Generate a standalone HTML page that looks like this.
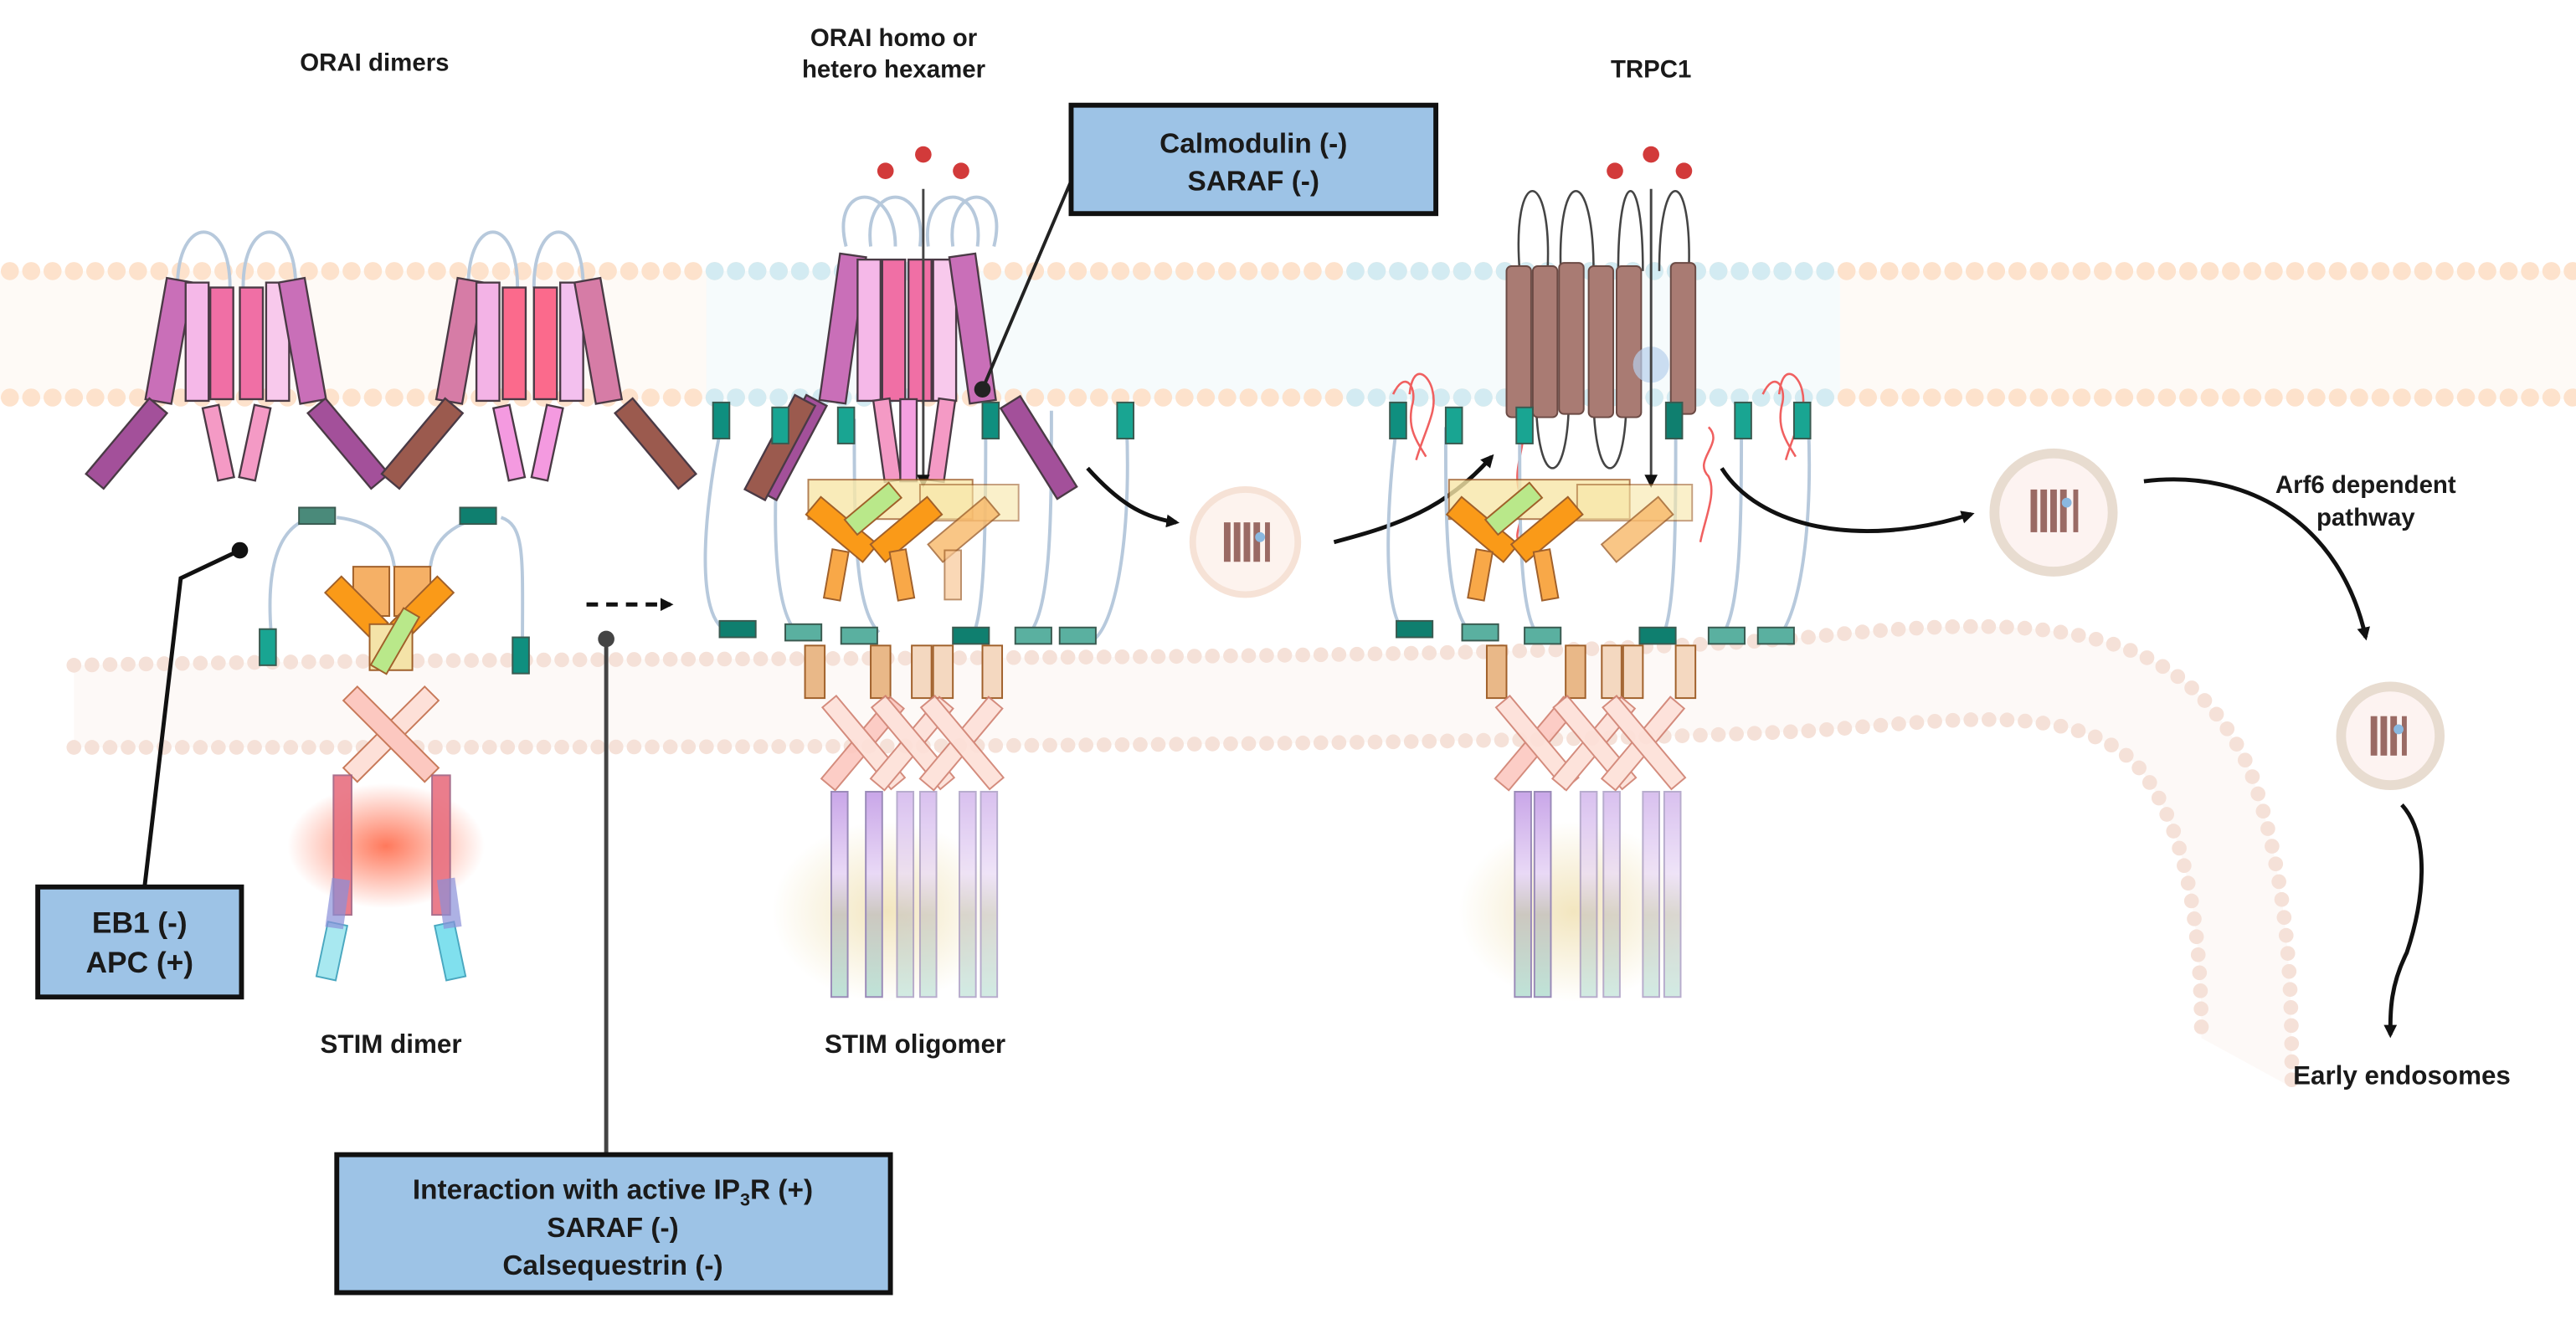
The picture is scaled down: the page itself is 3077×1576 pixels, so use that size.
<!DOCTYPE html>
<html><head><style>
html,body{margin:0;padding:0;background:#fff;}
svg{display:block;}
text{font-family:"Liberation Sans",sans-serif;font-weight:bold;fill:#1a1a1a;}
</style></head><body>
<svg width="3077" height="1576" viewBox="0 0 1568 803" xmlns="http://www.w3.org/2000/svg">
<defs>
<marker id="ah" markerWidth="8" markerHeight="8" refX="6" refY="4" orient="auto" markerUnits="userSpaceOnUse"><path d="M0,0 L8,4 L0,8 z" fill="#111"/></marker>
<linearGradient id="stim" x1="0" y1="0" x2="0" y2="1"><stop offset="0" stop-color="#c9a6e8"/><stop offset="0.4" stop-color="#e9d9f6"/><stop offset="0.6" stop-color="#ccc8c0"/><stop offset="1" stop-color="#bfe3d8"/></linearGradient>
<radialGradient id="red"><stop offset="0" stop-color="#ff6a4a" stop-opacity="0.9"/><stop offset="1" stop-color="#ff6a4a" stop-opacity="0"/></radialGradient>
<radialGradient id="yel"><stop offset="0" stop-color="#f1e3b8" stop-opacity="0.9"/><stop offset="1" stop-color="#f1e3b8" stop-opacity="0"/></radialGradient>
</defs>

<!-- Plasma membrane -->
<rect x="0" y="165" width="1568" height="78" fill="#fefaf6"/>
<rect x="430" y="165" width="690" height="78" fill="#f6fbfc"/>
<g stroke-linecap="round" stroke-width="11" fill="none">
<line x1="6" y1="165" x2="1568" y2="165" stroke="#fde2cc" stroke-dasharray="0 13"/>
<line x1="6" y1="242" x2="1568" y2="242" stroke="#fde2cc" stroke-dasharray="0 13"/>
<line x1="435" y1="165" x2="560" y2="165" stroke="#d3ebf2" stroke-dasharray="0 13"/>
<line x1="435" y1="242" x2="560" y2="242" stroke="#d3ebf2" stroke-dasharray="0 13"/>
<line x1="825" y1="165" x2="1115" y2="165" stroke="#d3ebf2" stroke-dasharray="0 13"/>
<line x1="825" y1="242" x2="1115" y2="242" stroke="#d3ebf2" stroke-dasharray="0 13"/>
</g>

<!-- ER membrane -->
<path d="M45,405 C400,398 900,405 1100,388 C1250,372 1330,380 1370,470 C1395,540 1395,610 1395,662 L1340,632 C1340,560 1330,500 1300,465 C1260,425 1180,440 1100,445 C900,455 400,455 45,455 Z" fill="#fdf9f7"/>
<g stroke-linecap="round" stroke-width="9" fill="none" stroke="#f5e1d8" stroke-dasharray="0 11">
<path d="M45,405 C400,398 900,405 1100,388 C1250,372 1330,380 1370,470 C1395,540 1395,610 1395,662"/>
<path d="M45,455 C400,455 900,455 1100,445 C1180,440 1260,425 1300,465 C1330,500 1340,560 1340,632"/>
</g>

<ellipse cx="235" cy="515" rx="60" ry="38" fill="url(#red)"/>
<ellipse cx="540" cy="555" rx="70" ry="55" fill="url(#yel)"/>
<ellipse cx="958" cy="555" rx="70" ry="55" fill="url(#yel)"/>

<!-- ORAI dimers left -->
<g stroke="#4a3a45" stroke-width="1.2">
<g fill="none" stroke="#b7c9dc" stroke-width="2"><path d="M108,175 C108,130 140,130 140,175 M148,175 C148,130 180,130 180,175 M285,175 C285,130 315,130 315,175 M325,175 C325,130 355,130 355,175"/></g>
<rect x="95" y="170" width="16" height="75" fill="#c96fb8" transform="rotate(10 103 207)"/>
<rect x="113" y="172" width="14" height="72" fill="#f5b8e8"/>
<rect x="128" y="175" width="14" height="68" fill="#f06fa5"/>
<rect x="146" y="175" width="14" height="68" fill="#f06fa5"/>
<rect x="162" y="172" width="14" height="72" fill="#f8c9ec"/>
<rect x="176" y="170" width="16" height="75" fill="#c96fb8" transform="rotate(-10 184 207)"/>
<rect x="272" y="170" width="16" height="75" fill="#d67ca6" transform="rotate(10 280 207)"/>
<rect x="290" y="172" width="14" height="72" fill="#f3b3e6"/>
<rect x="306" y="175" width="14" height="68" fill="#fb6a8c"/>
<rect x="325" y="175" width="14" height="68" fill="#fb6a8c"/>
<rect x="341" y="172" width="14" height="72" fill="#f3c0ee"/>
<rect x="356" y="170" width="16" height="75" fill="#d67ca6" transform="rotate(-10 364 207)"/>
<rect x="70" y="240" width="14" height="60" fill="#a3509a" transform="rotate(40 77 270)"/>
<rect x="128" y="247" width="10" height="45" fill="#f49ac5" transform="rotate(-12 133 270)"/>
<rect x="150" y="247" width="10" height="45" fill="#f49ac5" transform="rotate(12 155 270)"/>
<rect x="205" y="240" width="14" height="60" fill="#a3509a" transform="rotate(-40 212 270)"/>
<rect x="250" y="240" width="14" height="60" fill="#9b5a4e" transform="rotate(40 257 270)"/>
<rect x="305" y="247" width="10" height="45" fill="#f49ae0" transform="rotate(-12 310 270)"/>
<rect x="328" y="247" width="10" height="45" fill="#f49ae0" transform="rotate(12 333 270)"/>
<rect x="392" y="240" width="14" height="60" fill="#9b5a4e" transform="rotate(-40 399 270)"/>
</g>

<!-- STIM dimer -->
<g fill="none" stroke="#b7c9dc" stroke-width="2"><path d="M165,385 C160,320 185,315 195,315 M205,315 C230,318 238,330 240,345 M262,345 C265,320 290,315 298,315 M305,315 C320,320 318,340 318,395"/></g>
<g stroke="#3a5a50" stroke-width="1">
<rect x="182" y="309" width="22" height="10" fill="#4a8a7a"/>
<rect x="280" y="309" width="22" height="10" fill="#0f7f6f"/>
<rect x="158" y="383" width="10" height="22" fill="#19a592"/>
<rect x="312" y="388" width="10" height="22" fill="#0f8f7f"/>
</g>
<g stroke="#a0602a" stroke-width="1">
<rect x="215" y="345" width="22" height="30" fill="#f5b066"/>
<rect x="240" y="345" width="22" height="30" fill="#f5b066"/>
<rect x="210" y="350" width="14" height="40" fill="#fa9a18" transform="rotate(-45 217 370)"/>
<rect x="250" y="350" width="14" height="40" fill="#fa9a18" transform="rotate(45 257 370)"/>
<rect x="225" y="380" width="26" height="28" fill="#f4e3a8"/>
<rect x="235" y="370" width="11" height="40" fill="#b9e88a" transform="rotate(30 240 390)"/>
</g>
<g stroke="#c87a5a" stroke-width="1">
<rect x="232" y="412" width="12" height="70" fill="#fde0d8" transform="rotate(45 238 447)"/>
<rect x="232" y="412" width="12" height="70" fill="#fcc8c0" transform="rotate(-45 238 447)"/>
</g>
<rect x="203" y="472" width="11" height="85" fill="#e87080" stroke="#a06080" opacity="0.9"/>
<rect x="263" y="472" width="11" height="85" fill="#e87080" stroke="#a06080" opacity="0.9"/>
<rect x="196" y="562" width="12" height="34" fill="#a8e8f0" stroke="#4aa8c0" transform="rotate(12 202 579)"/>
<rect x="268" y="562" width="12" height="34" fill="#80e0ee" stroke="#4aa8c0" transform="rotate(-12 274 579)"/>
<rect x="200" y="535" width="11" height="30" fill="#8a90d8" opacity="0.7" transform="rotate(8 205 550)"/>
<rect x="268" y="535" width="11" height="30" fill="#8a90d8" opacity="0.7" transform="rotate(-8 273 550)"/>

<line x1="357" y1="368" x2="408" y2="368" stroke="#111" stroke-width="2.5" stroke-dasharray="7 5" marker-end="url(#ah)"/>

<!-- ORAI hexamer + STIM oligomer -->
<g fill="none" stroke="#b7c9dc" stroke-width="2">
<path d="M515,150 C505,110 545,110 545,150 M530,150 C525,110 565,110 560,150 M565,150 C560,110 600,110 595,150 M580,150 C575,110 615,110 605,150"/>
<path d="M440,255 C430,300 420,380 445,385 M475,255 C470,310 470,370 485,385 M520,255 C520,320 520,370 535,385 M600,245 C600,320 600,380 590,390 M640,250 C640,320 640,380 622,390 M685,245 C690,320 680,380 665,390"/>
</g>
<g stroke="#4a3a45" stroke-width="1.2">
<rect x="505" y="155" width="16" height="90" fill="#c96fb8" transform="rotate(8 513 200)"/>
<rect x="522" y="158" width="14" height="86" fill="#f5b8e8"/>
<rect x="537" y="158" width="14" height="86" fill="#f06fa5"/>
<rect x="553" y="158" width="14" height="86" fill="#f06fa5"/>
<rect x="568" y="158" width="14" height="86" fill="#f8c9ec"/>
<rect x="584" y="155" width="16" height="90" fill="#c96fb8" transform="rotate(-8 592 200)"/>
<rect x="475" y="240" width="14" height="65" fill="#a3509a" transform="rotate(28 482 272)"/>
<rect x="468" y="240" width="14" height="65" fill="#9b5a4e" transform="rotate(28 475 272)"/>
<rect x="535" y="243" width="10" height="50" fill="#f49ac5" transform="rotate(-8 540 268)"/>
<rect x="548" y="243" width="10" height="50" fill="#f4a0e0"/>
<rect x="568" y="243" width="10" height="50" fill="#f49ac5" transform="rotate(8 573 268)"/>
<rect x="625" y="240" width="14" height="65" fill="#a3509a" transform="rotate(-32 632 272)"/>
</g>
<line x1="562" y1="115" x2="562" y2="295" stroke="#444" stroke-width="1.5" marker-end="url(#ah)"/>
<g fill="#d23a3a"><circle cx="539" cy="104" r="5"/><circle cx="562" cy="94" r="5"/><circle cx="585" cy="104" r="5"/></g>
<g stroke="#3a5a50" stroke-width="1">
<rect x="434" y="245" width="10" height="22" fill="#0f8f7f"/><rect x="470" y="248" width="10" height="22" fill="#19a592"/>
<rect x="510" y="248" width="10" height="22" fill="#19a592"/><rect x="598" y="245" width="10" height="22" fill="#0f8f7f"/>
<rect x="680" y="245" width="10" height="22" fill="#19a592"/>
<rect x="438" y="378" width="22" height="10" fill="#0f7f6f"/><rect x="478" y="380" width="22" height="10" fill="#5ab0a0"/>
<rect x="512" y="382" width="22" height="10" fill="#5ab0a0"/><rect x="580" y="382" width="22" height="10" fill="#0f7f6f"/>
<rect x="618" y="382" width="22" height="10" fill="#5ab0a0"/><rect x="645" y="382" width="22" height="10" fill="#5ab0a0"/>
</g>
<g stroke="#a0602a" stroke-width="1">
<rect x="492" y="292" width="100" height="24" fill="#f8e7a8" opacity="0.8"/>
<rect x="560" y="295" width="60" height="22" fill="#f8e7a8" opacity="0.6"/>
<rect x="505" y="300" width="14" height="45" fill="#fa9a18" transform="rotate(-50 512 322)"/>
<rect x="545" y="300" width="14" height="45" fill="#fa9a18" transform="rotate(50 552 322)"/>
<rect x="525" y="292" width="12" height="35" fill="#b9e88a" transform="rotate(50 531 310)"/>
<rect x="580" y="300" width="14" height="45" fill="#f8b868" transform="rotate(50 587 322)" opacity="0.8"/>
<rect x="504" y="335" width="10" height="30" fill="#f8a848" transform="rotate(10 509 350)"/>
<rect x="544" y="335" width="10" height="30" fill="#f8a848" transform="rotate(-10 549 350)"/>
<rect x="575" y="335" width="10" height="30" fill="#f8c898" opacity="0.7"/>
<rect x="490" y="393" width="12" height="32" fill="#e9b888"/><rect x="530" y="393" width="12" height="32" fill="#e9b888"/>
<rect x="555" y="393" width="12" height="32" fill="#f4d8c0"/><rect x="568" y="393" width="12" height="32" fill="#f4d8c0"/><rect x="598" y="393" width="12" height="32" fill="#f4d8c0"/>
</g>
<g stroke="#d08070" stroke-width="1" opacity="0.9">
<rect x="520" y="420" width="11" height="65" fill="#fcc8c0" transform="rotate(40 525 452)"/>
<rect x="520" y="420" width="11" height="65" fill="#fde0d8" transform="rotate(-40 525 452)"/>
<rect x="550" y="420" width="11" height="65" fill="#fde0d8" transform="rotate(40 555 452)"/>
<rect x="550" y="420" width="11" height="65" fill="#fde0d8" transform="rotate(-40 555 452)"/>
<rect x="580" y="420" width="11" height="65" fill="#fde0d8" transform="rotate(40 585 452)"/>
<rect x="580" y="420" width="11" height="65" fill="#fde0d8" transform="rotate(-40 585 452)"/>
</g>
<g stroke="#9a8ab8" stroke-width="1" fill="url(#stim)">
<rect x="506" y="482" width="10" height="125"/><rect x="527" y="482" width="10" height="125"/>
<rect x="546" y="482" width="10" height="125" opacity="0.7"/><rect x="560" y="482" width="10" height="125" opacity="0.7"/>
<rect x="584" y="482" width="10" height="125" opacity="0.7"/><rect x="597" y="482" width="10" height="125" opacity="0.7"/>
</g>

<line x1="652" y1="110" x2="598" y2="237" stroke="#222" stroke-width="2"/>
<circle cx="598" cy="237" r="5" fill="#222"/>
<rect x="652" y="64" width="222" height="66" fill="#9dc3e6" stroke="#111" stroke-width="3"/>
<text x="763" y="93" font-size="17" text-anchor="middle">Calmodulin (-)</text>
<text x="763" y="116" font-size="17" text-anchor="middle">SARAF (-)</text>

<path d="M662,285 C680,305 695,315 716,318" fill="none" stroke="#111" stroke-width="2.5" marker-end="url(#ah)"/>
<g>
<circle cx="758" cy="330" r="32" fill="#fdf3ee" stroke="#f6e2d6" stroke-width="4"/>
<g fill="#9a6a64"><rect x="745" y="318" width="4" height="24"/><rect x="751" y="318" width="4" height="24"/><rect x="757" y="318" width="4" height="24"/><rect x="763" y="318" width="4" height="24"/><rect x="770" y="318" width="3" height="24"/></g>
<circle cx="767" cy="327" r="3" fill="#8ab8e0"/>
</g>
<path d="M812,330 C850,320 880,310 908,278" fill="none" stroke="#111" stroke-width="2.5" marker-end="url(#ah)"/>

<!-- TRPC1 -->
<g fill="none" stroke="#444" stroke-width="1.3">
<path d="M925,165 C920,100 945,100 942,165 M950,165 C948,100 970,100 970,165 M985,165 C985,100 1000,100 1000,165 M1010,165 C1010,100 1030,100 1028,165"/>
<path d="M935,240 C935,300 955,300 955,240 M970,240 C970,300 990,300 990,240"/>
</g>
<g fill="#a97b73" stroke="#6b4a44" stroke-width="1">
<rect x="917" y="162" width="15" height="92" rx="3"/><rect x="933" y="162" width="15" height="92" rx="3"/>
<rect x="949" y="160" width="15" height="92" rx="3"/><rect x="967" y="162" width="15" height="92" rx="3"/>
<rect x="984" y="162" width="15" height="92" rx="3"/><rect x="1017" y="160" width="15" height="92" rx="3"/>
</g>
<circle cx="1005" cy="222" r="11" fill="#b8d0ec" opacity="0.7"/>
<line x1="1005" y1="115" x2="1005" y2="295" stroke="#444" stroke-width="1.5" marker-end="url(#ah)"/>
<g fill="#d23a3a"><circle cx="983" cy="104" r="5"/><circle cx="1005" cy="94" r="5"/><circle cx="1025" cy="104" r="5"/></g>
<g fill="none" stroke="#f06060" stroke-width="1.3">
<path d="M848,240 C855,225 862,235 860,245 C856,260 862,268 868,278 M858,240 C860,220 870,228 872,238 C875,250 868,260 862,280"/>
<path d="M1073,240 C1080,225 1087,235 1085,245 C1081,260 1087,268 1093,278 M1083,240 C1085,220 1095,228 1097,238 C1100,250 1093,260 1087,280"/>
<path d="M927,255 C930,270 920,285 925,300 C930,315 920,325 925,330"/>
<path d="M1040,260 C1050,270 1030,280 1040,290 C1045,300 1038,315 1035,330"/>
</g>
<g fill="none" stroke="#b7c9dc" stroke-width="2">
<path d="M850,260 C845,300 840,370 855,385 M880,260 C880,320 880,370 895,385 M925,260 C925,320 925,370 935,385 M1020,260 C1020,320 1020,380 1010,390 M1060,250 C1060,320 1060,380 1045,390 M1100,245 C1105,320 1095,380 1080,390"/>
</g>
<g stroke="#3a5a50" stroke-width="1">
<rect x="846" y="245" width="10" height="22" fill="#0f8f7f"/><rect x="880" y="248" width="10" height="22" fill="#19a592"/>
<rect x="923" y="248" width="10" height="22" fill="#19a592"/><rect x="1014" y="245" width="10" height="22" fill="#0f7f6f"/>
<rect x="1056" y="245" width="10" height="22" fill="#19a592"/><rect x="1092" y="245" width="10" height="22" fill="#19a592"/>
<rect x="850" y="378" width="22" height="10" fill="#0f7f6f"/><rect x="890" y="380" width="22" height="10" fill="#5ab0a0"/>
<rect x="928" y="382" width="22" height="10" fill="#5ab0a0"/><rect x="998" y="382" width="22" height="10" fill="#0f7f6f"/>
<rect x="1040" y="382" width="22" height="10" fill="#5ab0a0"/><rect x="1070" y="382" width="22" height="10" fill="#5ab0a0"/>
</g>
<g stroke="#a0602a" stroke-width="1">
<rect x="882" y="292" width="110" height="24" fill="#f8e7a8" opacity="0.8"/>
<rect x="960" y="295" width="70" height="22" fill="#f8e7a8" opacity="0.6"/>
<rect x="895" y="300" width="14" height="45" fill="#fa9a18" transform="rotate(-50 902 322)"/>
<rect x="935" y="300" width="14" height="45" fill="#fa9a18" transform="rotate(50 942 322)"/>
<rect x="915" y="292" width="12" height="35" fill="#b9e88a" transform="rotate(50 921 310)"/>
<rect x="990" y="300" width="14" height="45" fill="#f8b868" transform="rotate(50 997 322)" opacity="0.8"/>
<rect x="896" y="335" width="10" height="30" fill="#f8a848" transform="rotate(10 901 350)"/>
<rect x="936" y="335" width="10" height="30" fill="#f8a848" transform="rotate(-10 941 350)"/>
<rect x="905" y="393" width="12" height="32" fill="#e9b888"/><rect x="953" y="393" width="12" height="32" fill="#e9b888"/>
<rect x="975" y="393" width="12" height="32" fill="#f4d8c0"/><rect x="988" y="393" width="12" height="32" fill="#f4d8c0"/><rect x="1020" y="393" width="12" height="32" fill="#f4d8c0"/>
</g>
<g stroke="#d08070" stroke-width="1" opacity="0.9">
<rect x="930" y="420" width="11" height="65" fill="#fcc8c0" transform="rotate(40 935 452)"/>
<rect x="930" y="420" width="11" height="65" fill="#fde0d8" transform="rotate(-40 935 452)"/>
<rect x="965" y="420" width="11" height="65" fill="#fde0d8" transform="rotate(40 970 452)"/>
<rect x="965" y="420" width="11" height="65" fill="#fde0d8" transform="rotate(-40 970 452)"/>
<rect x="995" y="420" width="11" height="65" fill="#fde0d8" transform="rotate(40 1000 452)"/>
<rect x="995" y="420" width="11" height="65" fill="#fde0d8" transform="rotate(-40 1000 452)"/>
</g>
<g stroke="#9a8ab8" stroke-width="1" fill="url(#stim)">
<rect x="922" y="482" width="10" height="125"/><rect x="934" y="482" width="10" height="125"/>
<rect x="962" y="482" width="10" height="125" opacity="0.7"/><rect x="976" y="482" width="10" height="125" opacity="0.7"/>
<rect x="1000" y="482" width="10" height="125" opacity="0.7"/><rect x="1013" y="482" width="10" height="125" opacity="0.7"/>
</g>

<path d="M1048,285 C1070,320 1130,335 1200,313" fill="none" stroke="#111" stroke-width="2.5" marker-end="url(#ah)"/>
<g>
<circle cx="1250" cy="312" r="36" fill="#fdf3f1" stroke="#e8dcd0" stroke-width="6"/>
<g fill="#9a6a64"><rect x="1236" y="298" width="4" height="26"/><rect x="1242" y="298" width="4" height="26"/><rect x="1248" y="298" width="4" height="26"/><rect x="1254" y="298" width="4" height="26"/><rect x="1262" y="298" width="3" height="26"/></g>
<circle cx="1258" cy="306" r="3" fill="#8ab8e0"/>
</g>
<path d="M1305,293 C1370,285 1425,320 1440,388" fill="none" stroke="#111" stroke-width="2.5" marker-end="url(#ah)"/>
<g>
<circle cx="1455" cy="448" r="30" fill="#fdf3f1" stroke="#e8dcd0" stroke-width="6"/>
<g fill="#9a6a64"><rect x="1443" y="436" width="4" height="24"/><rect x="1449" y="436" width="4" height="24"/><rect x="1455" y="436" width="4" height="24"/><rect x="1462" y="436" width="3" height="24"/></g>
<circle cx="1460" cy="444" r="3" fill="#8ab8e0"/>
</g>
<path d="M1462,490 C1480,510 1475,550 1465,580 C1455,600 1455,615 1455,630" fill="none" stroke="#111" stroke-width="2.5" marker-end="url(#ah)"/>

<polyline points="146,335 110,352 88,540" fill="none" stroke="#111" stroke-width="2.5"/>
<circle cx="146" cy="335" r="5" fill="#111"/>
<rect x="23" y="540" width="124" height="67" fill="#9dc3e6" stroke="#111" stroke-width="3"/>
<text x="85" y="568" font-size="18" text-anchor="middle">EB1 (-)</text>
<text x="85" y="592" font-size="18" text-anchor="middle">APC (+)</text>

<line x1="369" y1="389" x2="369" y2="703" stroke="#444" stroke-width="2.5"/>
<circle cx="369" cy="389" r="5" fill="#444"/>
<rect x="205" y="703" width="337" height="84" fill="#9dc3e6" stroke="#111" stroke-width="3"/>
<text x="373" y="730" font-size="17" text-anchor="middle">Interaction with active IP<tspan font-size="11" dy="4">3</tspan><tspan dy="-4">R (+)</tspan></text>
<text x="373" y="753" font-size="17" text-anchor="middle">SARAF (-)</text>
<text x="373" y="776" font-size="17" text-anchor="middle">Calsequestrin (-)</text>

<text x="228" y="43" font-size="15" text-anchor="middle">ORAI dimers</text>
<text x="544" y="28" font-size="15" text-anchor="middle">ORAI homo or</text>
<text x="544" y="47" font-size="15" text-anchor="middle">hetero hexamer</text>
<text x="1005" y="47" font-size="15" text-anchor="middle">TRPC1</text>
<text x="1440" y="300" font-size="15" text-anchor="middle">Arf6 dependent</text>
<text x="1440" y="320" font-size="15" text-anchor="middle">pathway</text>
<text x="1462" y="660" font-size="16" text-anchor="middle">Early endosomes</text>
<text x="238" y="641" font-size="16" text-anchor="middle">STIM dimer</text>
<text x="557" y="641" font-size="16" text-anchor="middle">STIM oligomer</text>
</svg>
</body></html>
